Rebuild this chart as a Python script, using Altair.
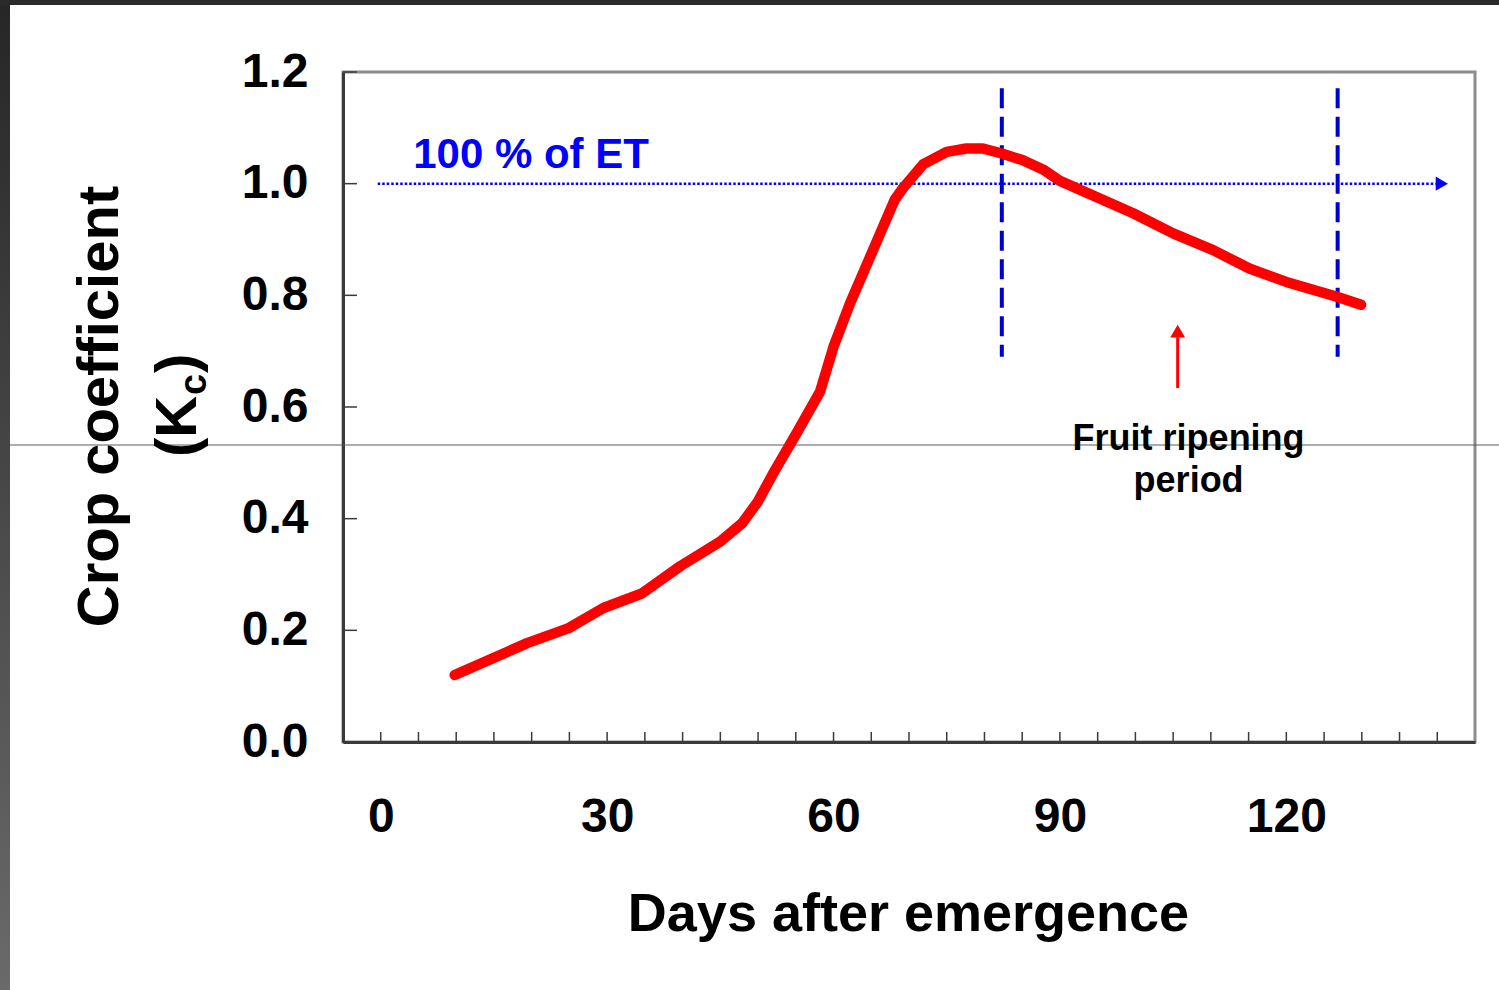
import altair as alt
import pandas as pd

# ---------------- data ----------------
days = [9.8, 19.4, 24.9, 29.5, 34.6, 39.7, 45.0, 47.9, 50.0, 52.0, 55.1, 58.2, 60.0,
        62.2, 68.1, 69.2, 71.9, 75.0, 77.6, 79.8, 82.3, 85.1, 87.8, 90.0, 99.7,
        105.0, 110.3, 115.1, 120.0, 126.6, 129.9]
kc = [0.120, 0.177, 0.204, 0.240, 0.266, 0.315, 0.359, 0.392, 0.431, 0.481, 0.553,
      0.627, 0.708, 0.786, 0.971, 0.992, 1.035, 1.057, 1.063, 1.063, 1.054, 1.042,
      1.025, 1.005, 0.947, 0.911, 0.881, 0.848, 0.824, 0.798, 0.783]

x_labels = [0, 30, 60, 90, 120]
x_minor = list(range(0, 145, 5))
y_labels = [0.0, 0.2, 0.4, 0.6, 0.8, 1.0, 1.2]
phase_days = [82.3, 126.8]          # vertical dashed lines
phase_kc = [0.69, 1.171]
et_level = 1.0                      # 100 % of ET
ripening_day = 105.6

FONT = "Liberation Sans"
W, H = 1132, 670

curve_df = pd.DataFrame({"day": days, "kc": kc})
xt_df = pd.DataFrame({"day": x_minor})
yt_df = pd.DataFrame({"kc": y_labels})
phase_df = pd.DataFrame({"day": phase_days})
one = pd.DataFrame({"a": [0]})

xscale = alt.Scale(domain=[-5, 145], nice=False, zero=False)
yscale = alt.Scale(domain=[0, 1.2], nice=False, zero=False)

# ---------------- decorative frame of the screenshot ----------------
grad = alt.LinearGradient(
    gradient="linear",
    stops=[alt.GradientStop(color="#262626", offset=0),
           alt.GradientStop(color="#6a6a6a", offset=1)],
    x1=0, x2=0, y1=0, y2=1)
left_strip = alt.Chart(one).mark_rect(fill=grad).encode(
    x=alt.value(-343), x2=alt.value(-333), y=alt.value(-72), y2=alt.value(918))
top_strip = alt.Chart(one).mark_rect(fill="#2a2a2a").encode(
    x=alt.value(-343), x2=alt.value(1156), y=alt.value(-72), y2=alt.value(-67))
gray_line = alt.Chart(one).mark_rule(color="#5a5a5a", strokeWidth=1).encode(
    x=alt.value(-333), x2=alt.value(1156), y=alt.value(373))

# ---------------- main curve with axes ----------------
curve = alt.Chart(curve_df).mark_line(
    color="#FF0000", strokeWidth=10.5, strokeCap="round", strokeJoin="round"
).encode(
    x=alt.X("day:Q", scale=xscale, axis=alt.Axis(
        values=x_labels, title="Days after emergence",
        titleFont=FONT, titleFontSize=54, titleFontWeight="bold", titleColor="black",
        titleX=565, titleY=188, titleAlign="center", titleBaseline="alphabetic",
        labelFont=FONT, labelFontSize=48, labelFontWeight="bold", labelColor="black",
        labelPadding=51, ticks=False, tickSize=0, grid=False,
        domainColor="#3a3a3a", domainWidth=3)),
    y=alt.Y("kc:Q", scale=yscale, axis=alt.Axis(
        values=y_labels, format=".1f", title="Crop coefficient",
        titleFont=FONT, titleFontSize=58, titleFontWeight="bold", titleColor="black",
        titleAngle=270, titleX=-226, titleY=334, titleAlign="center",
        titleBaseline="alphabetic",
        labelFont=FONT, labelFontSize=48, labelFontWeight="bold", labelColor="black",
        labelPadding=35, ticks=False, tickSize=0, grid=False,
        domainColor="#3a3a3a", domainWidth=3)),
)

# inward ticks
x_ticks = alt.Chart(xt_df).mark_rule(color="#3a3a3a", strokeWidth=1.5).encode(
    x=alt.X("day:Q", scale=xscale), y=alt.datum(0), y2=alt.datum(0.018))
y_ticks = alt.Chart(yt_df).mark_rule(color="#3a3a3a", strokeWidth=1.5).encode(
    y=alt.Y("kc:Q", scale=yscale), x=alt.datum(-5), x2=alt.datum(-3.15))

# vertical dashed phase lines
phase = alt.Chart(phase_df).mark_rule(
    color="#0000CC", strokeWidth=4, strokeDash=[20, 8.5]
).encode(x=alt.X("day:Q", scale=xscale),
         y=alt.datum(phase_kc[1]), y2=alt.datum(phase_kc[0]))

# 100 % ET dotted line with arrow
et_line = alt.Chart(one).mark_rule(
    color="#0000FF", strokeWidth=2.5, strokeDash=[2.5, 2]
).encode(x=alt.datum(-0.4), x2=alt.datum(139.8), y=alt.datum(et_level))
et_head = alt.Chart(one).mark_point(
    shape="triangle-right", filled=True, color="#0000FF", size=200, opacity=1
).encode(x=alt.datum(140.6), y=alt.datum(et_level))
et_text = alt.Chart(one).mark_text(
    text="100 % of ET", font=FONT, fontSize=42, fontWeight="bold", color="#0000FF",
    align="left", baseline="alphabetic"
).encode(x=alt.datum(4.3), y=alt.datum(1.0275))

# red arrow for the ripening period
r_shaft = alt.Chart(one).mark_rule(color="#FF0000", strokeWidth=3).encode(
    x=alt.datum(ripening_day), y=alt.datum(0.634), y2=alt.datum(0.725))
r_head = alt.Chart(one).mark_point(
    shape="triangle-up", filled=True, color="#FF0000", size=220, opacity=1
).encode(x=alt.datum(ripening_day), y=alt.datum(0.736))
r_text = alt.Chart(one).mark_text(
    text=["Fruit ripening", "period"], font=FONT, fontSize=36, fontWeight="bold",
    color="black", align="center", baseline="alphabetic", lineHeight=42
).encode(x=alt.datum(107.05), y=alt.datum(0.523))

# second line of the y title: (K c )
kc_open = alt.Chart(one).mark_text(
    text="(K", font=FONT, fontSize=58, fontWeight="bold", color="black",
    angle=270, align="left", baseline="alphabetic"
).encode(x=alt.value(-147), y=alt.value(385))
kc_sub = alt.Chart(one).mark_text(
    text="c", font=FONT, fontSize=38, fontWeight="bold", color="black",
    angle=270, align="left", baseline="alphabetic"
).encode(x=alt.value(-137), y=alt.value(323))
kc_close = alt.Chart(one).mark_text(
    text=")", font=FONT, fontSize=58, fontWeight="bold", color="black",
    angle=270, align="left", baseline="alphabetic"
).encode(x=alt.value(-147), y=alt.value(301))

chart = alt.layer(
    left_strip, top_strip, gray_line,
    x_ticks, y_ticks, phase, et_line, et_head, et_text,
    curve, r_shaft, r_head, r_text, kc_open, kc_sub, kc_close
).properties(
    width=W, height=H,
    autosize=alt.AutoSizeParams(type="none"),
    padding={"left": 343, "top": 72, "right": 24, "bottom": 248},
    background="white",
).configure_view(stroke="#8c8c8c", strokeWidth=3)

chart.save("out.html", embed_options={"renderer": "svg", "actions": False})
